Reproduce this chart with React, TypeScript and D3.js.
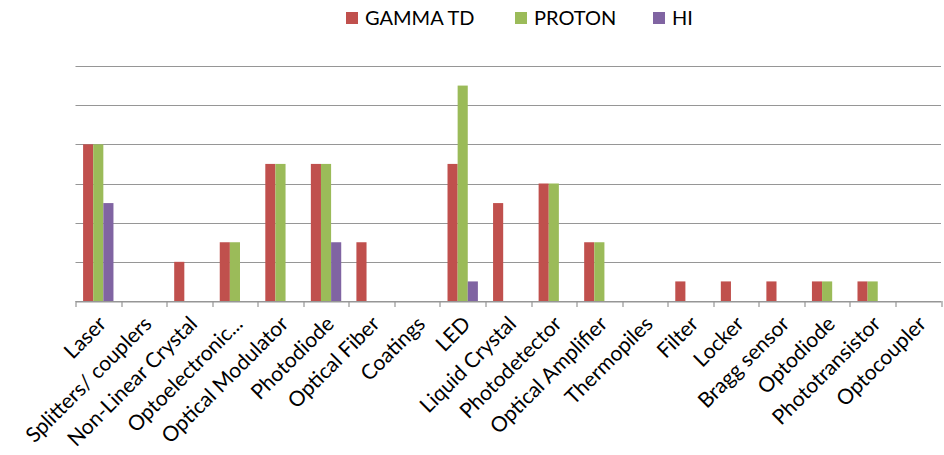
import { useRef, useEffect } from "react";
import * as d3 from "d3";

const categories = [
  "Laser",
  "Splitters/ couplers",
  "Non-Linear Crystal",
  "Optoelectronic...",
  "Optical Modulator",
  "Photodiode",
  "Optical Fiber",
  "Coatings",
  "LED",
  "Liquid Crystal",
  "Photodetector",
  "Optical Amplifier",
  "Thermopiles",
  "Filter",
  "Locker",
  "Bragg sensor",
  "Optodiode",
  "Phototransistor",
  "Optocoupler",
];

const gammaTd = [8, 0, 2, 3, 7, 7, 3, 0, 7, 5, 6, 3, 0, 1, 1, 1, 1, 1, 0];
const proton = [8, 0, 0, 3, 7, 7, 0, 0, 11, 0, 6, 3, 0, 0, 0, 0, 1, 1, 0];
const hi = [5, 0, 0, 0, 0, 3, 0, 0, 1, 0, 0, 0, 0, 0, 0, 0, 0, 0, 0];

const yTicks = [0, 2, 4, 6, 8, 10, 12];

const series = [
  { name: "GAMMA TD", values: gammaTd, color: "#C0504D" },
  { name: "PROTON", values: proton, color: "#9BBB59" },
  { name: "HI", values: hi, color: "#8064A2" },
];

const FONT = "Lato, 'Open Sans', sans-serif";

export default function App() {
  const svgRef = useRef<SVGSVGElement>(null);

  useEffect(() => {
    if (!svgRef.current) return;
    const W = 944;
    const H = 455;
    const margin = { top: 66, right: 3, bottom: 154, left: 75.5 };
    const width = W - margin.left - margin.right;
    const height = H - margin.top - margin.bottom;

    const svg = d3.select(svgRef.current);
    svg.selectAll("*").remove();
    svg.attr("width", W).attr("height", H);

    const g = svg
      .append("g")
      .attr("transform", `translate(${margin.left},${margin.top})`);

    const x = d3.scaleBand().domain(categories).range([0, width]);
    const groupW = x.bandwidth() * (3 / 4.5);
    const inner = d3
      .scaleBand()
      .domain(series.map((s) => s.name))
      .range([0, groupW]);
    const offset = (x.bandwidth() - groupW) / 2;

    const y = d3.scaleLinear().domain([0, 12]).range([height, 0]);

    // gridlines
    g.selectAll(".grid")
      .data(yTicks)
      .enter()
      .append("line")
      .attr("x1", 0)
      .attr("x2", width)
      .attr("y1", (d) => Math.round(y(d)) + 0.5)
      .attr("y2", (d) => Math.round(y(d)) + 0.5)
      .attr("stroke", "#969696")
      .attr("stroke-width", 1.2);

    // bars
    series.forEach((s) => {
      g.selectAll(`.bar-${s.name}`)
        .data(s.values)
        .enter()
        .append("rect")
        .attr("x", (_, i) => x(categories[i])! + offset + inner(s.name)!)
        .attr("y", (d) => y(d))
        .attr("width", inner.bandwidth())
        .attr("height", (d) => y(0) - y(d))
        .attr("fill", s.color);
    });

    // x axis
    const axis = g
      .append("g")
      .attr("transform", `translate(0,${Math.round(y(0)) + 0.5})`)
      .call(
        d3
          .axisBottom(x)
          .tickSize(0)
          .tickFormat(() => "")
      );
    axis.select(".domain").attr("stroke", "#969696").attr("stroke-width", 1.2);

    g.selectAll(".tick-mark")
      .data(d3.range(categories.length + 1))
      .enter()
      .append("line")
      .attr("x1", (i) => Math.round(i * x.step()) + 0.5)
      .attr("x2", (i) => Math.round(i * x.step()) + 0.5)
      .attr("y1", y(0))
      .attr("y2", y(0) + 6)
      .attr("stroke", "#969696")
      .attr("stroke-width", 1.2);

    g.selectAll(".xlabel")
      .data(categories)
      .enter()
      .append("text")
      .attr(
        "transform",
        (d) => `translate(${x(d)! + x.bandwidth() / 2 + 4},${y(0) + 19}) rotate(-45)`
      )
      .attr("text-anchor", "end")
      .attr("dy", "0.35em")
      .style("font-family", FONT)
      .style("font-size", "21px")
      .style("fill", "#000")
      .text((d) => d);

    // legend
    const legendX = [346, 515, 653];
    series.forEach((s, i) => {
      const item = svg
        .append("g")
        .attr("transform", `translate(${legendX[i]},12)`);
      item
        .append("rect")
        .attr("width", 12)
        .attr("height", 12)
        .attr("fill", s.color);
      item
        .append("text")
        .attr("x", 19)
        .attr("y", 13)
        .style("font-family", FONT)
        .style("font-size", "20px")
        .style("fill", "#000")
        .text(s.name);
    });
  }, []);

  return (
    <svg
      ref={svgRef}
      style={{ position: "absolute", left: 0, top: 0, background: "#fff" }}
    />
  );
}
